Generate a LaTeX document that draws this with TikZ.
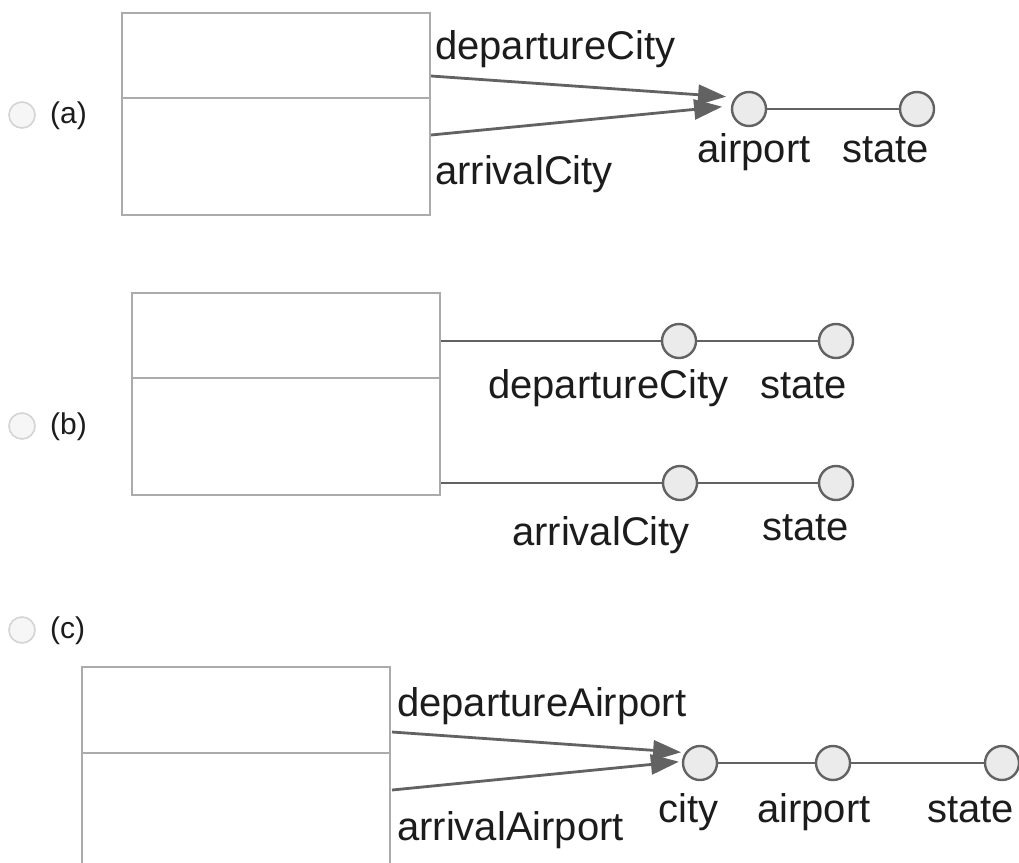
\documentclass[tikz,border=0pt]{standalone}
\usepackage{fontspec}
\setmainfont{Liberation Sans}
\usepackage{tikz}
\usetikzlibrary{arrows.meta,positioning}

\definecolor{boxgray}{HTML}{ABABAB}
\definecolor{linegray}{HTML}{626262}
\definecolor{dotfill}{HTML}{EBEBEB}
\definecolor{radiogray}{HTML}{D4D4D4}
\definecolor{radiofill}{HTML}{F6F6F6}
\definecolor{textgray}{HTML}{1C1C1C}

\begin{document}
\begin{tikzpicture}[
            x=1pt, y=-1pt,
            vgray/.style={circle,draw=linegray,fill=dotfill,line width=2.4pt,minimum size=34pt,inner sep=0pt},
            radio/.style={circle,draw=radiogray,fill=radiofill,line width=1.6pt,minimum size=26pt,inner sep=0pt},
            classbox/.style={draw=boxgray,line width=2.8pt},
            link/.style={draw=linegray,line width=2.8pt},
            arr/.style={link,-{Triangle[length=28pt,width=20pt]}},
            txt/.style={anchor=base west,inner sep=0pt,text=textgray,font=\fontsize{40}{48}\selectfont},
            opt/.style={anchor=base west,inner sep=0pt,text=textgray,font=\fontsize{30}{36}\selectfont}
          ]
          \clip (0,0) rectangle (1019,862);
          \fill[white] (0,0) rectangle (1019,862);

          % (a)
          \node[radio] (ra) at (22,115) {};
          \node[opt] (la) at (50,123) {(a)};
          \draw[classbox] (122,13) rectangle (430,215);
          \draw[classbox] (122,98) -- (430,98);
          \coordinate (depA) at (431,76);
          \coordinate (arrA) at (431,135);
          \node[vgray] (airportA) at (749,109) {};
          \node[vgray] (stateA) at (917,109) {};
          \draw[arr, shorten >=9pt] (depA) -- (airportA.140);
          \draw[arr, shorten >=9pt] (arrA) -- (airportA.170);
          \draw[link] (airportA) -- (stateA);
          \node[txt] (tdepA) at (435,59) {departureCity};
          \node[txt] (tarrA) at (435,184) {arrivalCity};
          \node[txt] (tairA) at (697,162) {airport};
          \node[txt] (tstA) at (842,162) {state};

          % (b)
          \node[radio] (rb) at (22,426) {};
          \node[opt] (lb) at (50,434) {(b)};
          \draw[classbox] (132,293) rectangle (440,495);
          \draw[classbox] (132,378) -- (440,378);
          \coordinate (depB) at (441,341);
          \coordinate (arrB) at (441,483);
          \node[vgray] (dcityB) at (679,341) {};
          \node[vgray] (dstateB) at (836,341) {};
          \node[vgray] (acityB) at (680,483) {};
          \node[vgray] (astateB) at (836,483) {};
          \draw[link] (depB) -- (dcityB);
          \draw[link] (dcityB) -- (dstateB);
          \draw[link] (arrB) -- (acityB);
          \draw[link] (acityB) -- (astateB);
          \node[txt] (tdepB) at (488,398) {departureCity};
          \node[txt] (tdstB) at (760,398) {state};
          \node[txt] (tarrB) at (512,545) {arrivalCity};
          \node[txt] (tastB) at (762,540) {state};

          % (c)
          \node[radio] (rc) at (22,630) {};
          \node[opt] (lc) at (50,638) {(c)};
          \draw[classbox] (82,667) rectangle (390,900);
          \draw[classbox] (82,753) -- (390,753);
          \coordinate (depC) at (392,732);
          \coordinate (arrC) at (392,790);
          \node[vgray] (cityC) at (700,763) {};
          \node[vgray] (airportC) at (833,763) {};
          \node[vgray] (stateC) at (1002,763) {};
          \draw[arr, shorten >=4pt] (depC) -- (cityC.145);
          \draw[arr, shorten >=3pt] (arrC) -- (cityC.175);
          \draw[link] (cityC) -- (airportC);
          \draw[link] (airportC) -- (stateC);
          \node[txt] (tdepC) at (397,716) {departureAirport};
          \node[txt] (tarrC) at (397,840) {arrivalAirport};
          \node[txt] (tcityC) at (658,822) {city};
          \node[txt] (tairC) at (757,822) {airport};
          \node[txt] (tstC) at (927,822) {state};
        \end{tikzpicture}
\end{document}
